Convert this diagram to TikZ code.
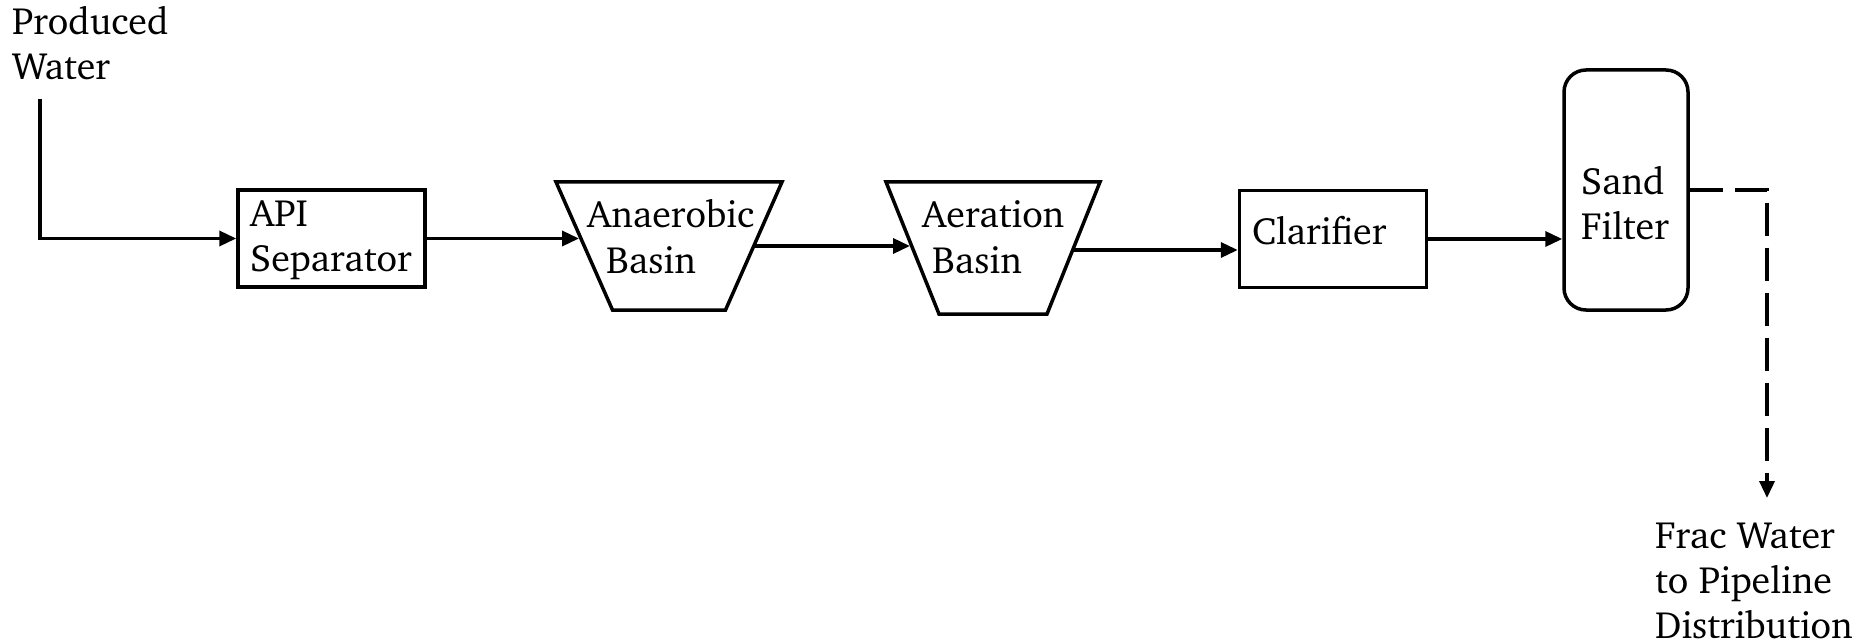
\documentclass[tikz,border=0pt]{standalone}
\usepackage[T1]{fontenc}
\usepackage{charter}
\usetikzlibrary{arrows.meta}
\tikzset{
  box/.style={draw, line width=3.5pt, minimum width=187pt, minimum height=97pt, inner sep=0pt},
  basinarea/.style={inner sep=0pt, outer sep=0pt},
  outline/.style={line width=3.5pt, line join=miter},
  txt/.style={font=\fontsize{38}{45}\selectfont, inner sep=0pt, align=left, anchor=base west},
  flow/.style={line width=3.5pt, -{Triangle[length=17pt,width=15pt]}},
  dflow/.style={flow, dash pattern=on 33pt off 12pt}
}
\begin{document}
\begin{tikzpicture}[x=1pt,y=-1pt]
\useasboundingbox (0,0) rectangle (1876,644);
% shapes
\node[box] (api) at (331.5,238.5) {};
\node[basinarea, minimum width=226pt, minimum height=128pt] (ana) at (669,246) {};
\draw[outline] (ana.north west) -- (ana.north east) -- ([xshift=-56.5pt]ana.south east) -- ([xshift=56.5pt]ana.south west) -- cycle;
\node[basinarea, minimum width=214pt, minimum height=132pt] (aer) at (993,248) {};
\draw[outline] (aer.north west) -- (aer.north east) -- ([xshift=-53pt]aer.south east) -- ([xshift=53pt]aer.south west) -- cycle;
\node[box] (cla) at (1333,239) {};
\node[draw, line width=3.5pt, rounded corners=22pt, minimum width=124pt, minimum height=240pt, inner sep=0pt] (sand) at (1626,190) {};
% texts
\node[txt] (pwtxt) at (12,80) {Produced\\Water};
\node[txt] (apitxt) at (250,272) {API\\Separator};
\node[txt] (anatxt) at (587,273) {Anaerobic\\\hspace*{19pt}Basin};
\node[txt] (aertxt) at (922,273) {Aeration\\\hspace*{10pt}Basin};
\node[txt] (clatxt) at (1252,245) {Clarifier};
\node[txt] (sandtxt) at (1581,240) {Sand\\Filter};
\node[txt] (fractxt) at (1655,638) {Frac Water\\to Pipeline\\Distribution};
% connectors
\coordinate (pwstart) at (40,99);
\coordinate (fracend) at (1767,498);
\draw[flow] (pwstart) |- (api.west);
\draw[flow] (api.east) -- ([xshift=23pt]api.east -| ana.west);
\draw[flow] ([xshift=-28pt]ana.east) -- ([xshift=24pt]ana.east -| aer.west);
\draw[flow] ([xshift=-27pt,yshift=-2pt]aer.east) -- ([yshift=-2pt]aer.east -| cla.west);
\draw[flow] (cla.east) -- (cla.east -| sand.west);
\draw[dflow] (sand.east) -| (fracend);
\end{tikzpicture}
\end{document}
